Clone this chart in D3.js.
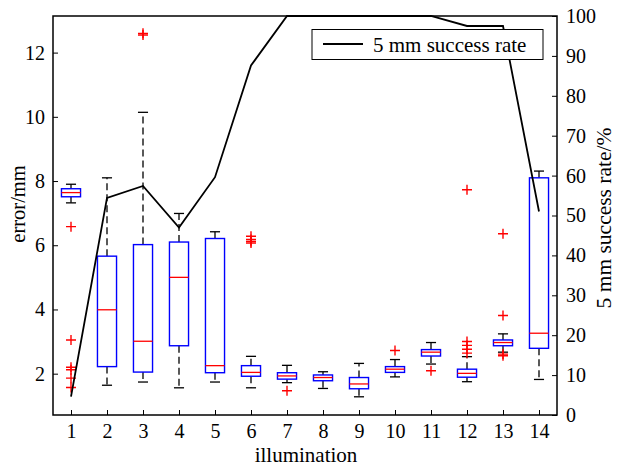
<!DOCTYPE html>
<html><head><meta charset="utf-8">
<script src="https://cdn.jsdelivr.net/npm/d3@7/dist/d3.min.js"></script>
<style>body{margin:0;background:#fff;}svg{display:block;font-family:"Liberation Serif","Times New Roman",serif;}</style>
</head><body><svg id="c" width="617" height="466"></svg>
<script>
const categories = [1,2,3,4,5,6,7,8,9,10,11,12,13,14];
const whiskerLow  = [7.32,1.64,1.74,1.56,1.74,1.56,1.72,1.54,1.28,1.90,2.30,1.75,2.67,1.82];
const q1          = [7.51,2.22,2.05,2.87,2.03,1.92,1.83,1.78,1.53,2.04,2.55,1.89,2.87,2.79];
const medians     = [7.64,3.99,3.01,5.00,2.25,2.04,1.93,1.88,1.68,2.14,2.67,2.01,2.97,3.26];
const q3          = [7.76,5.66,6.02,6.10,6.21,2.25,2.03,1.96,1.88,2.22,2.75,2.14,3.05,8.10];
const whiskerHigh = [7.90,8.10,10.14,6.99,6.42,2.54,2.26,2.06,2.32,2.44,2.97,2.53,3.24,8.31];
const outliers = [
  [6.58,3.05,2.20,2.12,1.86,1.57],
  [],
  [12.55,12.60],
  [],
  [],
  [6.28,6.18,6.12,6.07],
  [1.47],
  [],
  [],
  [2.72],
  [2.09],
  [7.73,3.00,2.88,2.76,2.64],
  [6.36,3.81,2.61,2.56],
  []
];
const successRate = [4.6,54.4,57.4,47.0,59.6,87.6,100,100,100,100,100,97.5,97.5,51.0];
const leftTicks = [2,4,6,8,10,12];
const rightTicks = [0,10,20,30,40,50,60,70,80,90,100];

const svg = d3.select("#c");
const L=53, R=557, T=16, B=415;
const x = d3.scaleLinear().domain([0.5,14.5]).range([L,R]);
const yL = d3.scaleLinear().domain([0.713,13.14]).range([B,T]);
const yR = d3.scaleLinear().domain([0,100]).range([B,T]);
const fs = 20, fl = 21;

const axB = d3.axisBottom(x).tickValues(categories).tickSizeInner(-5).tickSizeOuter(0).tickPadding(9);
const axL = d3.axisLeft(yL).tickValues(leftTicks).tickSizeInner(-5).tickSizeOuter(0).tickPadding(8);
const axR = d3.axisRight(yR).tickValues(rightTicks).tickSizeInner(-5).tickSizeOuter(0).tickPadding(9);
function style(g){
  g.selectAll("text").attr("font-size",fs).attr("fill","#000").attr("font-family","Liberation Serif");
  g.selectAll("line").attr("stroke","#000").attr("stroke-width",1);
  g.select(".domain").remove();
}
svg.append("g").attr("transform",`translate(0,${B})`).call(axB).call(style);
svg.append("g").attr("transform",`translate(${L},0)`).call(axL).call(style);
svg.append("g").attr("transform",`translate(${R},0)`).call(axR).call(style);
svg.append("rect").attr("x",L).attr("y",T).attr("width",R-L).attr("height",B-T)
  .attr("fill","none").attr("stroke","#000").attr("stroke-width",1.5);

const step = x(2)-x(1);
const hw = step*0.265, cw = step*0.14;
const g = svg.append("g");
categories.forEach((c,i)=>{
  const cx = x(c);
  g.append("line").attr("x1",cx).attr("x2",cx).attr("y1",yL(q3[i])).attr("y2",yL(whiskerHigh[i]))
    .attr("stroke","#000").attr("stroke-width",1.3).attr("stroke-dasharray","7,4");
  g.append("line").attr("x1",cx).attr("x2",cx).attr("y1",yL(q1[i])).attr("y2",yL(whiskerLow[i]))
    .attr("stroke","#000").attr("stroke-width",1.3).attr("stroke-dasharray","7,4");
  [whiskerHigh[i],whiskerLow[i]].forEach(v=>{
    g.append("line").attr("x1",cx-cw).attr("x2",cx+cw).attr("y1",yL(v)).attr("y2",yL(v))
      .attr("stroke","#000").attr("stroke-width",1.3);
  });
  g.append("rect").attr("x",cx-hw).attr("y",yL(q3[i])).attr("width",2*hw)
    .attr("height",yL(q1[i])-yL(q3[i])).attr("fill","#fff").attr("stroke","#0000ff").attr("stroke-width",1.4);
  g.append("line").attr("x1",cx-hw).attr("x2",cx+hw).attr("y1",yL(medians[i])).attr("y2",yL(medians[i]))
    .attr("stroke","#ff0000").attr("stroke-width",1.3);
  outliers[i].forEach(v=>{
    const yy=yL(v);
    g.append("path").attr("d",`M${cx-5},${yy}H${cx+5}M${cx},${yy-5}V${yy+5}`)
      .attr("stroke","#ff0000").attr("stroke-width",1.4).attr("fill","none");
  });
});

svg.append("path").datum(successRate)
  .attr("d",d3.line().x((d,i)=>x(categories[i])).y(d=>yR(d)))
  .attr("fill","none").attr("stroke","#000").attr("stroke-width",1.8);

svg.append("rect").attr("x",312).attr("y",29.5).attr("width",231).attr("height",30)
  .attr("fill","#fff").attr("stroke","#000").attr("stroke-width",1);
svg.append("line").attr("x1",323).attr("x2",363).attr("y1",44).attr("y2",44)
  .attr("stroke","#000").attr("stroke-width",1.8);
svg.append("text").attr("x",373).attr("y",51.5).attr("font-size",21).text("5 mm success rate");

svg.append("text").attr("x",306).attr("y",461.5).attr("text-anchor","middle").attr("font-size",fl).text("illumination");
svg.append("text").attr("transform","translate(25,204) rotate(-90)").attr("text-anchor","middle").attr("font-size",20.5).text("error/mm");
svg.append("text").attr("transform","translate(611,218) rotate(-90)").attr("text-anchor","middle").attr("font-size",21.5).text("5 mm success rate/%");
</script></body></html>
